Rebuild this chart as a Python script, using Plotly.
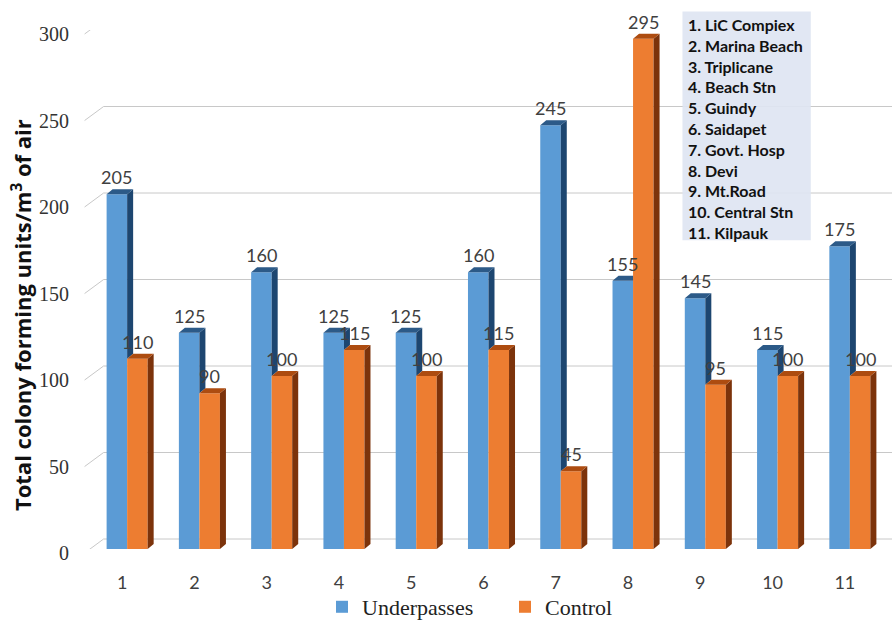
import plotly.graph_objects as go

# Airborne colony counts per sampling site (CFU / m3 of air)
sites = [1, 2, 3, 4, 5, 6, 7, 8, 9, 10, 11]
underpasses = [205, 125, 160, 125, 125, 160, 245, 155, 145, 115, 175]
control = [110, 90, 100, 115, 100, 115, 45, 295, 95, 100, 100]
site_names = ["1. LiC Compiex", "2. Marina Beach", "3. Triplicane", "4. Beach Stn",
              "5. Guindy", "6. Saidapet", "7. Govt. Hosp", "8. Devi", "9. Mt.Road",
              "10. Central Stn", "11. Kilpauk"]
y_ticks = [0, 50, 100, 150, 200, 250, 300]

BLUE, BLUE_SIDE, BLUE_TOP = "#5b9bd5", "#1d4670", "#2c5a88"
ORANGE, ORANGE_SIDE, ORANGE_TOP = "#ed7d31", "#7c330b", "#ad4c10"

BARGAP = 0.432
W = (1 - BARGAP) / 2      # width of one bar in x units
DX = 0.083                # depth of the 3-D extrusion (x units)
DY = 2.9                  # depth of the 3-D extrusion (y units)

fig = go.Figure()
fig.add_trace(go.Bar(x=sites, y=underpasses, name="Underpasses", marker_color=BLUE,
                     marker_line_width=0, hoverinfo="y"))
fig.add_trace(go.Bar(x=sites, y=control, name="Control", marker_color=ORANGE,
                     marker_line_width=0, hoverinfo="y"))


def poly_trace(polys, color):
    xs, ys = [], []
    for p in polys:
        xs += [pt[0] for pt in p] + [p[0][0], None]
        ys += [pt[1] for pt in p] + [p[0][1], None]
    return go.Scatter(x=xs, y=ys, mode="lines", fill="toself", fillcolor=color,
                      line=dict(width=0, color=color), showlegend=False, hoverinfo="skip")


blue_side, blue_top, orange_side, orange_top = [], [], [], []
for x, vb, vo in zip(sites, underpasses, control):
    bl, br = x - W, x
    ol, orr = x, x + W
    if vb > vo:
        blue_side.append([(br, vb), (br + DX, vb + DY), (br + DX, vo + DY), (br, vo)])
        blue_top.append([(bl, vb), (br, vb), (br + DX, vb + DY), (bl + DX, vb + DY)])
    else:
        blue_top.append([(bl, vb), (br, vb), (br, vb + DY), (bl + DX, vb + DY)])
    orange_side.append([(orr, 0), (orr, vo), (orr + DX, vo + DY), (orr + DX, DY)])
    orange_top.append([(ol, vo), (orr, vo), (orr + DX, vo + DY), (ol + DX, vo + DY)])

fig.add_trace(poly_trace(blue_side, BLUE_SIDE))
fig.add_trace(poly_trace(blue_top, BLUE_TOP))
fig.add_trace(poly_trace(orange_side, ORANGE_SIDE))
fig.add_trace(poly_trace(orange_top, ORANGE_TOP))

# value labels
annotations = []
for x, vb, vo in zip(sites, underpasses, control):
    for xv, v in ((x - W / 2, vb), (x + W / 2, vo)):
        annotations.append(dict(x=xv, y=v, xref="x", yref="y", text=str(v), showarrow=False,
                                yanchor="bottom", yshift=4,
                                font=dict(family="Lato", size=18, color="#404040")))

# y-axis title
annotations.append(dict(x=-0.0873, y=0.45, xref="paper", yref="paper", textangle=-90,
                        text="Total colony forming units/m<sup>3</sup> of air", showarrow=False,
                        xanchor="center", yanchor="middle",
                        font=dict(family="Open Sans", size=22, color="#111111", weight="bold")))

# site key
annotations.append(dict(x=0.748, y=1.033, xref="paper", yref="paper", xanchor="left",
                        yanchor="top", align="left", showarrow=False,
                        text="<br>".join(site_names),
                        font=dict(family="Lato", size=16, color="#111111", weight="bold")))

# back-wall gridlines with perspective slant at the left
shapes = []
for v in y_ticks:
    shapes.append(dict(type="line", xref="paper", yref="y", xsizemode="pixel", ysizemode="pixel",
                       xanchor=0, yanchor=v, x0=-6.4, y0=-4, x1=12.6, y1=10,
                       line=dict(color="#c8c8c8", width=1), layer="below"))
    shapes.append(dict(type="line", xref="paper", yref="y", xsizemode="pixel", ysizemode="pixel",
                       xanchor=0, yanchor=v, x0=12.6, y0=10, x1=801, y1=10,
                       line=dict(color="#c8c8c8", width=1), layer="below"))
shapes.append(dict(type="rect", xref="paper", yref="paper", x0=0.744, x1=0.9054, y0=0.595, y1=1.0356,
                   fillcolor="rgba(222,229,242,0.92)", line=dict(width=0), layer="above"))

fig.update_layout(
    width=892, height=620,
    margin=dict(l=91, r=6, t=30, b=71),
    paper_bgcolor="white", plot_bgcolor="white",
    barmode="group", bargap=BARGAP, bargroupgap=0,
    showlegend=True,
    legend=dict(orientation="h", xref="container", yref="container", x=0.361, y=0.021,
                xanchor="left", yanchor="middle", entrywidth=138, entrywidthmode="pixels",
                bgcolor="rgba(0,0,0,0)",
                font=dict(family="Liberation Serif", size=22, color="#222222")),
    annotations=annotations,
    shapes=shapes,
    xaxis=dict(range=[0.5, 11.5], tickvals=sites, ticktext=[str(s) for s in sites],
               showgrid=False, zeroline=False, showline=False, ticks="", automargin=False,
               ticklabelstandoff=21, ticklabelshift=-5,
               tickfont=dict(family="Lato", size=18, color="#404040")),
    yaxis=dict(range=[0, 300], tickvals=y_ticks, showgrid=False, zeroline=False,
               showline=False, ticks="", automargin=False, ticklabelstandoff=21, ticklabelshift=4,
               tickfont=dict(family="Liberation Serif", size=20, color="#333333")),
)

fig.write_html("out.html")
